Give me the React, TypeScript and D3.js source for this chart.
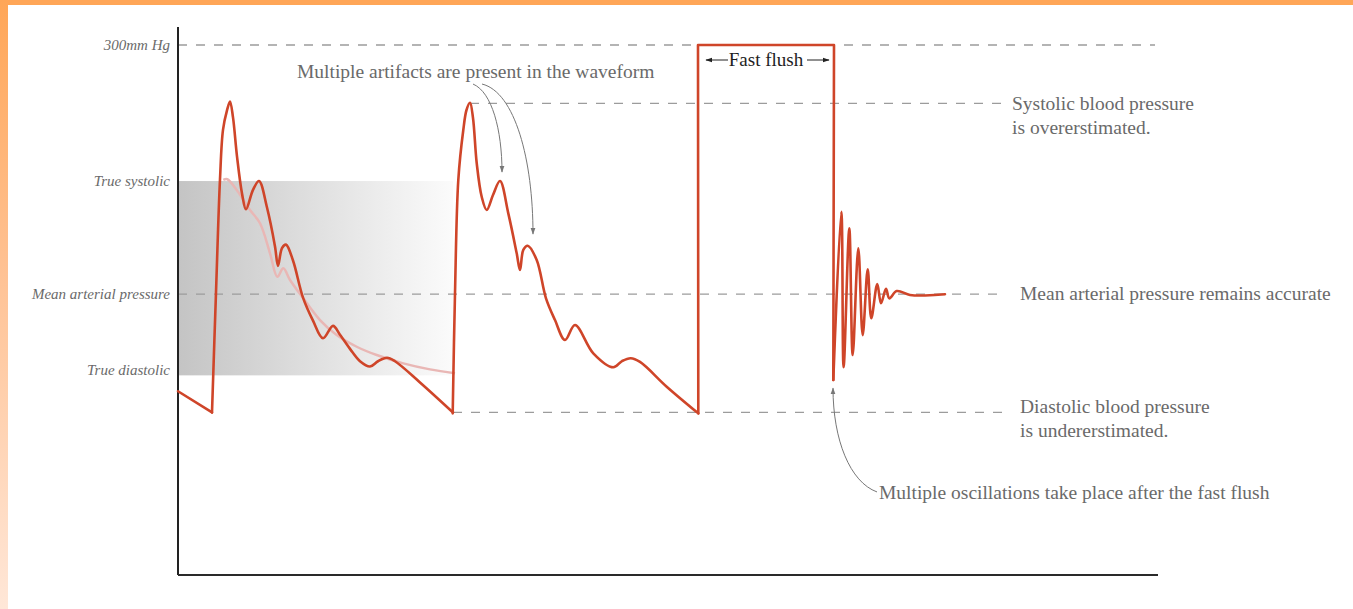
import React from "react";
import * as d3 from "d3";

// ---- data (time units along x, pressure in mmHg along y) ----
const trueSystolic = 223;
const meanArterial = 159;
const trueDiastolic = 113;
const measuredSystolic = 267;
const measuredDiastolic = 92;
const flushPressure = 300;

const leadIn: [number, number][] = [[0, 104], [34, 92]];

const beat1: [number, number][] = [
  [34, 92], [38, 160], [42, 224], [45, 252], [49, 263], [52, 268], [55, 259], [59, 237],
  [64, 216], [68, 207], [75, 218], [81, 223], [89, 208], [97, 186], [100, 175], [104, 185],
  [108, 187], [115, 178], [125, 157], [135, 144], [145, 134], [155, 141], [162, 136],
  [172, 128], [182, 121], [192, 118], [200, 121], [209, 123], [217, 121], [242, 109], [275, 92],
];

const trueBeat1: [number, number][] = [
  [45.3, 223.6], [49.3, 224], [58.7, 217.9], [72, 206.6], [82, 199.1], [92, 182.1],
  [99.3, 168.8], [105.3, 173.6], [112, 167], [125.3, 156.6], [142, 144.3], [158.7, 135.8],
  [178.7, 129.2], [198.7, 124.5], [225.3, 119.8], [252, 116.4], [277, 114.2],
];

const beat2: [number, number][] = [
  [274.7, 91.5], [277, 159.4], [280.3, 223.6], [285.3, 251.9], [288.5, 263.2], [292, 267.3],
  [295, 258.7], [298.7, 233.2], [303.7, 214.1], [308.7, 206.6], [315, 215.1], [322, 223],
  [330.3, 204.7], [338.7, 182.1], [342, 172.6], [345.3, 184], [349.7, 186.4], [358.7, 178.3],
  [368, 156.6], [377, 144.3], [387, 133], [397, 141.5], [415.3, 125.5], [435.3, 117.6],
  [444, 121.1], [452.7, 122.7], [462, 120.6], [488.7, 106.6], [520.3, 91.5],
];

const fastFlush: [number, number][] = [[520.3, 91.5], [520, 300], [656, 300], [655.3, 110.4]];

const oscillation: [number, number][] = [
  [655.3, 110.4], [663.3, 205.6], [665.6, 117.6], [671.3, 196.2], [674.7, 124.5],
  [680.3, 184.9], [684.7, 135.8], [689.7, 173], [693.3, 145.3], [699.3, 164.7],
  [703, 153.8], [708, 162], [711.3, 156.6], [718.7, 160.7], [732, 158.5], [747, 158.2], [767, 158.9],
];

const axisLabels = ["300mm Hg", "True systolic", "Mean arterial pressure", "True diastolic"];
const axisLabelValues = [flushPressure, trueSystolic, meanArterial, trueDiastolic + 3];

// ---- layout ----
const W = 1353;
const H = 609;
const x = d3.scaleLinear().domain([0, 980]).range([178, 1158]);
const y = d3.scaleLinear().domain([0, 300]).range([575, 45]);

const RED = "#cf4529";
const GREY_TEXT = "#6a6a6a";
const DASH = "#9c9c9c";
const SERIF = "'Liberation Serif', 'DejaVu Serif', serif";

const smooth = d3
  .line<[number, number]>()
  .x((d) => x(d[0]))
  .y((d) => y(d[1]))
  .curve(d3.curveCatmullRom.alpha(0.5));
const straight = d3
  .line<[number, number]>()
  .x((d) => x(d[0]))
  .y((d) => y(d[1]));

function bez(pts: [number, number][]) {
  const p = pts.map((d) => [x(d[0]), y(d[1])]);
  return `M${p[0][0]},${p[0][1]} C${p[1][0]},${p[1][1]} ${p[2][0]},${p[2][1]} ${p[3][0]},${p[3][1]}`;
}

const arrow1: [number, number][] = [[295, 277.9], [314, 273.4], [324, 251.9], [324, 228.1]];
const arrow2: [number, number][] = [[304, 277.9], [337, 273.4], [355, 234.9], [355, 193]];
const arrow3: [number, number][] = [[699, 47], [672, 52.6], [655, 76.4], [655, 105.8]];

export default function App() {
  const dashLines = [
    { p: flushPressure, t0: 0, t1: 977 },
    { p: measuredSystolic, t0: 292, t1: 825 },
    { p: meanArterial, t0: 0, t1: 827 },
    { p: measuredDiastolic, t0: 275, t1: 825 },
  ];
  return (
    <svg
      width={W}
      height={H}
      style={{ position: "absolute", left: 0, top: 0, background: "#fff" }}
      fontFamily={SERIF}
    >
      <defs>
        <linearGradient id="band" x1="0" x2="1" y1="0" y2="0">
          <stop offset="0" stopColor="#c4c4c4" />
          <stop offset="0.5" stopColor="#e0e0e0" />
          <stop offset="1" stopColor="#fbfbfb" />
        </linearGradient>
        <linearGradient id="frame" x1="0" x2="0" y1="0" y2="1">
          <stop offset="0" stopColor="#ffa657" />
          <stop offset="0.45" stopColor="#ffc294" />
          <stop offset="1" stopColor="#ffe7d8" />
        </linearGradient>
        <marker id="ahGrey" viewBox="0 0 10 10" refX="9" refY="5" markerWidth="7" markerHeight="7" orient="auto">
          <path d="M0,1.5 L10,5 L0,8.5 z" fill="#777" />
        </marker>
        <marker id="ahBlack" viewBox="0 0 10 10" refX="9" refY="5" markerWidth="7" markerHeight="7" orient="auto">
          <path d="M0,1.5 L10,5 L0,8.5 z" fill="#222" />
        </marker>
      </defs>

      {/* frame */}
      <rect x={0} y={0} width={W} height={H} fill="#fff" />
      <rect x={0} y={0} width={W} height={5} fill="#ffa657" />
      <rect x={0} y={0} width={8} height={H} fill="url(#frame)" />

      {/* true range band */}
      <rect
        x={x(0)}
        y={y(trueSystolic)}
        width={x(275) - x(0)}
        height={y(trueDiastolic) - y(trueSystolic)}
        fill="url(#band)"
      />

      {/* dashed reference lines */}
      {dashLines.map((d, i) => (
        <line
          key={i}
          x1={x(d.t0)}
          x2={x(d.t1)}
          y1={y(d.p)}
          y2={y(d.p)}
          stroke={DASH}
          strokeWidth={1.3}
          strokeDasharray="9,9"
        />
      ))}

      {/* axes */}
      <line x1={x(0)} x2={x(0)} y1={27} y2={y(0)} stroke="#222" strokeWidth={2} />
      <line x1={x(0)} x2={x(980)} y1={y(0)} y2={y(0)} stroke="#2a2a2a" strokeWidth={2} />

      {/* left labels */}
      {axisLabels.map((l, i) => (
        <text
          key={l}
          x={170}
          y={y(axisLabelValues[i]) + 5}
          textAnchor="end"
          fontStyle="italic"
          fontSize={15}
          fill={GREY_TEXT}
        >
          {l}
        </text>
      ))}

      {/* true pressure curve */}
      <path d={smooth(trueBeat1) || ""} fill="none" stroke="#e9b7b5" strokeWidth={2.5} />

      {/* measured waveform */}
      {[leadIn, fastFlush].map((s, i) => (
        <path key={"s" + i} d={straight(s) || ""} fill="none" stroke={RED} strokeWidth={2.6} strokeLinejoin="round" strokeLinecap="round" />
      ))}
      {[beat1, beat2, oscillation].map((s, i) => (
        <path key={"c" + i} d={smooth(s) || ""} fill="none" stroke={RED} strokeWidth={2.6} strokeLinejoin="round" strokeLinecap="round" />
      ))}

      {/* annotations */}
      <text x={297} y={78} fontSize={19.5} fill={GREY_TEXT}>
        Multiple artifacts are present in the waveform
      </text>
      <path d={bez(arrow1)} fill="none" stroke="#777" strokeWidth={1} markerEnd="url(#ahGrey)" />
      <path d={bez(arrow2)} fill="none" stroke="#777" strokeWidth={1} markerEnd="url(#ahGrey)" />

      <text x={x((520 + 656) / 2)} y={66} fontSize={19} fill="#1e1e1e" textAnchor="middle">
        Fast flush
      </text>
      <line x1={x(550)} x2={x(528)} y1={60} y2={60} stroke="#222" strokeWidth={1} markerEnd="url(#ahBlack)" />
      <line x1={x(629)} x2={x(651)} y1={60} y2={60} stroke="#222" strokeWidth={1} markerEnd="url(#ahBlack)" />

      <text x={1012} fontSize={19.5} fill={GREY_TEXT}>
        <tspan x={1012} y={y(measuredSystolic) + 7}>Systolic blood pressure</tspan>
        <tspan x={1012} y={y(measuredSystolic) + 31}>is overerstimated.</tspan>
      </text>
      <text x={1020} y={y(meanArterial) + 6} fontSize={19.5} fill={GREY_TEXT}>
        Mean arterial pressure remains accurate
      </text>
      <text x={1020} fontSize={19.5} fill={GREY_TEXT}>
        <tspan x={1020} y={y(measuredDiastolic) + 1}>Diastolic blood pressure</tspan>
        <tspan x={1020} y={y(measuredDiastolic) + 25}>is undererstimated.</tspan>
      </text>
      <text x={879} y={499} fontSize={19.5} fill={GREY_TEXT}>
        Multiple oscillations take place after the fast flush
      </text>
      <path d={bez(arrow3)} fill="none" stroke="#777" strokeWidth={1} markerEnd="url(#ahGrey)" />
    </svg>
  );
}
